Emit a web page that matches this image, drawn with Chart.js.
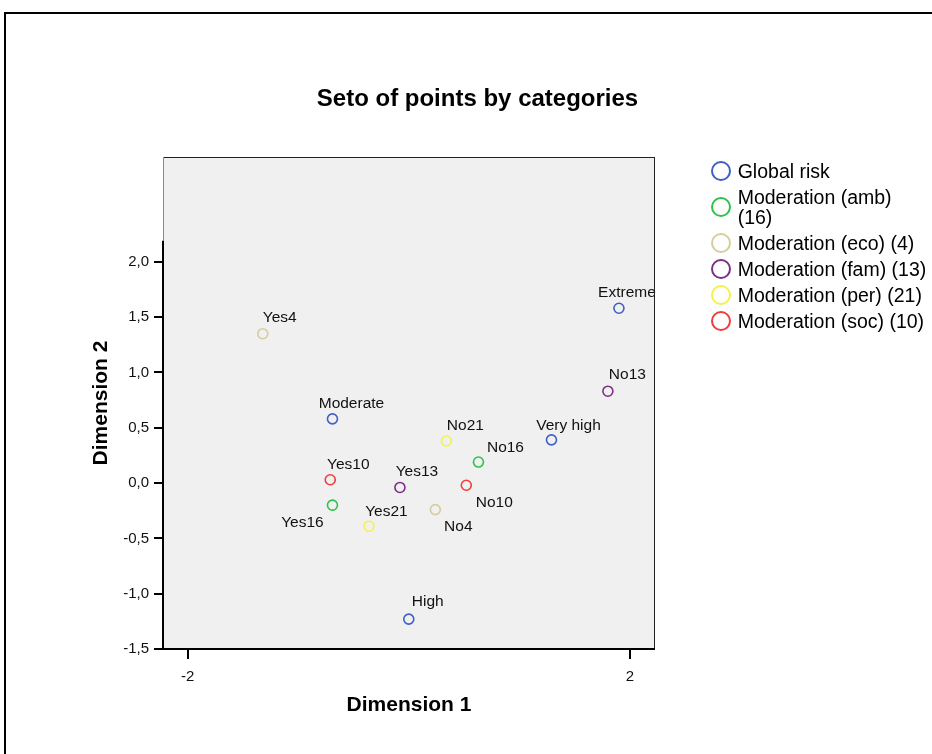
<!DOCTYPE html>
<html>
<head>
<meta charset="utf-8">
<title>Seto of points by categories</title>
<script src="https://cdn.jsdelivr.net/npm/chart.js@4.4.1/dist/chart.umd.min.js"></script>
<style>
  html, body { margin: 0; padding: 0; background: #fff; }
  body { width: 932px; height: 754px; position: relative; overflow: hidden; font-family: "Liberation Sans", Arial, sans-serif; }
  #frame { position: absolute; left: 4px; top: 12px; width: 1000px; height: 800px; border: 2px solid #000; box-sizing: border-box; }
  #plot { position: absolute; left: 0; top: 0; }
  #title { position: absolute; left: 0; width: 955px; top: 86px; text-align: center; font-weight: bold; font-size: 24px; line-height: 24px; color: #000; }
  #legend { position: absolute; left: 710px; top: 160.7px; }
  .row { display: flex; align-items: center; margin-bottom: 6px; }
  .swatch { width: 20px; height: 20px; border-radius: 50%; border: 2px solid; box-sizing: border-box; margin-left: 0.7px; margin-right: 7px; flex: none; }
  .txt { font-size: 19.5px; line-height: 20px; color: #000; white-space: nowrap; }
</style>
</head>
<body>
<div id="frame"></div>
<canvas id="plot" width="932" height="754"></canvas>
<div id="title">Seto of points by categories</div>
<div id="legend"></div>
<script>
// Category names (legend entries) and their marker colours
const categories = ['Global risk', ['Moderation (amb)', '(16)'], 'Moderation (eco) (4)',
                    'Moderation (fam) (13)', 'Moderation (per) (21)', 'Moderation (soc) (10)'];
const categoryColors = ['#3f5fc4', '#2fc24a', '#d6cd9c', '#7d2f88', '#f4f24a', '#f03c3c'];

// Category points: name, dimension 1, dimension 2, category index
const pointLabels = ['Moderate', 'High', 'Very high', 'Extreme',
                     'Yes16', 'No16', 'Yes4', 'No4', 'Yes13', 'No13',
                     'Yes21', 'No21', 'Yes10', 'No10'];
const dimension1 = [-0.69, 0.00, 1.29, 1.90,
                    -0.69, 0.63, -1.32, 0.24, -0.08, 1.80,
                    -0.36, 0.34, -0.71, 0.52];
const dimension2 = [0.58, -1.23, 0.39, 1.58,
                    -0.20, 0.19, 1.35, -0.24, -0.04, 0.83,
                    -0.39, 0.38, 0.03, -0.02];
const pointCategory = [0, 0, 0, 0, 1, 1, 2, 2, 3, 3, 4, 4, 5, 5];

// Axis ticks
const xTicks = [-2, 2];
const yTicks = [-1.5, -1.0, -0.5, 0.0, 0.5, 1.0, 1.5, 2.0];

// Where each point's label sits relative to its marker (pixels)
const labelOffsets = [[19, -15], [19, -17], [17, -14.5], [8, -15.5],
                      [-30, 17.5], [27, -14.5], [17, -15.5], [23, 17], [17, -15.5], [19.5, -16],
                      [17.5, -14.5], [19, -15.5], [18, -15], [28, 17.5]];

const FONT = '"Liberation Sans", Arial, sans-serif';
const AXIS_LINE_TOP = 2.19;

const datasets = categories.map((name, c) => ({
  label: Array.isArray(name) ? name.join(' ') : name,
  data: pointLabels.map((lbl, i) => ({ x: dimension1[i], y: dimension2[i], name: lbl, idx: i }))
                   .filter(p => pointCategory[p.idx] === c),
  borderColor: categoryColors[c],
  backgroundColor: 'rgba(0,0,0,0)',
  pointRadius: 5,
  pointHoverRadius: 5,
  pointBorderWidth: 1.6,
  showLine: false
}));

// Grey plot background
const plotBackground = {
  id: 'plotBackground',
  beforeDraw(chart) {
    const { ctx, chartArea: a } = chart;
    ctx.save();
    ctx.fillStyle = '#f0f0f0';
    ctx.fillRect(a.left, a.top, a.right - a.left, a.bottom - a.top);
    ctx.restore();
  }
};

// Text labels next to each marker
const pointNames = {
  id: 'pointNames',
  afterDatasetsDraw(chart) {
    const ctx = chart.ctx;
    ctx.save();
    ctx.font = '15.5px ' + FONT;
    ctx.fillStyle = '#111';
    ctx.textAlign = 'center';
    ctx.textBaseline = 'middle';
    chart.data.datasets.forEach((ds, d) => {
      chart.getDatasetMeta(d).data.forEach((el, j) => {
        const p = ds.data[j];
        const off = labelOffsets[p.idx];
        ctx.fillText(p.name, el.x + off[0], el.y + off[1]);
      });
    });
    ctx.restore();
  }
};

// Plot frame: thin top/right edges, heavy axis lines
const plotFrame = {
  id: 'plotFrame',
  afterDraw(chart) {
    const { ctx, chartArea: a } = chart;
    const yAxisTop = chart.scales.y.getPixelForValue(AXIS_LINE_TOP);
    ctx.save();
    ctx.lineWidth = 1;
    ctx.strokeStyle = '#222';
    ctx.beginPath();
    ctx.moveTo(a.left, a.top + 0.5); ctx.lineTo(a.right, a.top + 0.5);
    ctx.moveTo(a.right - 0.5, a.top); ctx.lineTo(a.right - 0.5, a.bottom);
    ctx.stroke();
    ctx.strokeStyle = '#8a8a8a';
    ctx.beginPath();
    ctx.moveTo(a.left + 0.5, a.top); ctx.lineTo(a.left + 0.5, yAxisTop);
    ctx.stroke();
    ctx.lineWidth = 2;
    ctx.strokeStyle = '#000';
    ctx.beginPath();
    ctx.moveTo(a.left, yAxisTop); ctx.lineTo(a.left, a.bottom + 1);
    ctx.moveTo(a.left - 1, a.bottom); ctx.lineTo(a.right, a.bottom);
    ctx.stroke();
    ctx.restore();
  }
};

new Chart(document.getElementById('plot'), {
  type: 'scatter',
  data: { datasets },
  options: {
    responsive: false,
    animation: false,
    devicePixelRatio: 1,
    layout: { padding: { left: 89, right: 277, top: 157, bottom: 25 } },
    plugins: { legend: { display: false }, title: { display: false }, tooltip: { enabled: false } },
    scales: {
      x: {
        type: 'linear',
        min: -2.222,
        max: 2.226,
        afterBuildTicks: s => { s.ticks = xTicks.map(v => ({ value: v })); },
        afterFit: s => { s.height = 80; },
        border: { display: false },
        grid: { display: true, drawOnChartArea: false, drawTicks: true, tickLength: 10, color: '#000', lineWidth: 2 },
        ticks: { font: { family: FONT, size: 15 }, color: '#111', padding: 9, maxRotation: 0,
                 callback: v => String(v) },
        title: { display: true, text: 'Dimension 1', color: '#000',
                 font: { family: FONT, size: 21, weight: 'bold' }, padding: { top: 0, bottom: 11 } }
      },
      y: {
        type: 'linear',
        min: -1.5,
        max: 2.947,
        afterBuildTicks: s => { s.ticks = yTicks.map(v => ({ value: v })); },
        afterFit: s => { s.width = 74; },
        border: { display: false },
        grid: { display: true, drawOnChartArea: false, drawTicks: true, tickLength: 9, color: '#000', lineWidth: 2 },
        ticks: { font: { family: FONT, size: 15 }, color: '#111', padding: 5,
                 callback: v => v.toFixed(1).replace('.', ',') },
        title: { display: true, text: 'Dimension 2', color: '#000',
                 font: { family: FONT, size: 21, weight: 'bold' }, padding: { top: 0, bottom: 0 } }
      }
    }
  },
  plugins: [plotBackground, pointNames, plotFrame]
});

// Legend built from the category names and colours
const legend = document.getElementById('legend');
categories.forEach((name, c) => {
  const row = document.createElement('div');
  row.className = 'row';
  const sw = document.createElement('div');
  sw.className = 'swatch';
  sw.style.borderColor = categoryColors[c];
  const txt = document.createElement('div');
  txt.className = 'txt';
  (Array.isArray(name) ? name : [name]).forEach((line, k) => {
    if (k) txt.appendChild(document.createElement('br'));
    txt.appendChild(document.createTextNode(line));
  });
  row.appendChild(sw);
  row.appendChild(txt);
  legend.appendChild(row);
});
</script>
</body>
</html>
